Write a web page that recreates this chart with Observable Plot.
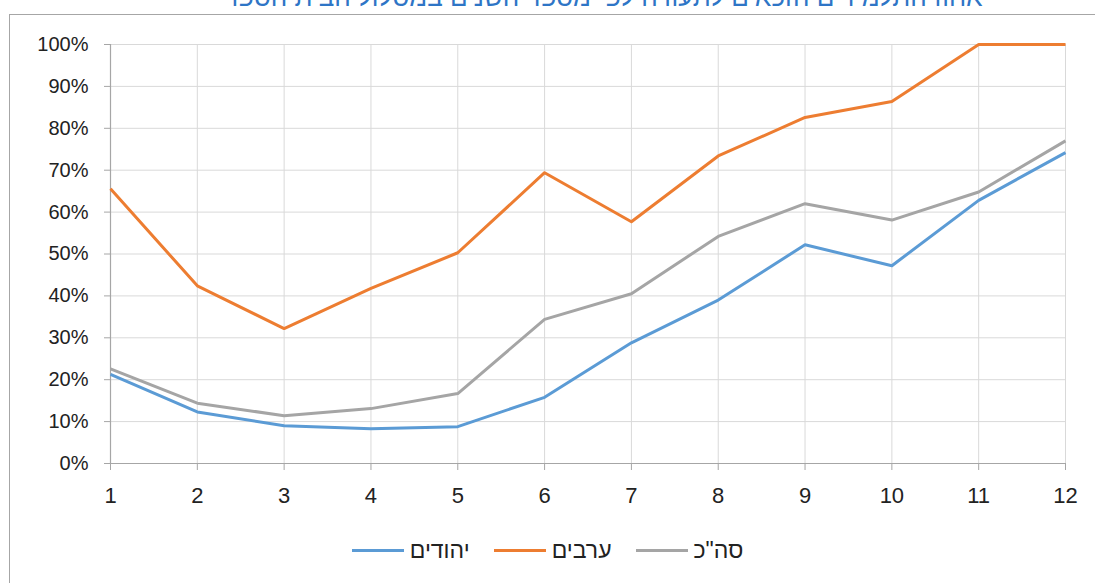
<!DOCTYPE html>
<html><head><meta charset="utf-8">
<script src="https://cdn.jsdelivr.net/npm/d3@7"></script>
<script src="https://cdn.jsdelivr.net/npm/@observablehq/plot@0.6"></script>
<style>
body{margin:0;background:#fff;font-family:"Liberation Sans",Arial,sans-serif;overflow:hidden}
#wrap{position:relative;width:1095px;height:583px;overflow:hidden}
#title{position:absolute;left:0;width:1200px;top:-18px;text-align:center;font-size:26px;line-height:30px;color:#2e75c6;direction:rtl;white-space:nowrap}
#ftop{position:absolute;left:9px;top:14px;width:1086px;height:0;border-top:1.5px solid #a6a6a6}
#fleft{position:absolute;left:9px;top:14px;width:0;height:569px;border-left:1.5px solid #a6a6a6}
#chart{position:absolute;left:0;top:0}
#legend{position:absolute;top:536px;left:0;width:1095px;display:flex;justify-content:center;gap:24px;font-size:23px;line-height:28px;color:#222}
.item{display:flex;align-items:center;gap:6px}
.sw{width:52px;height:3px}
</style></head>
<body><div id="wrap">
<div id="title">אחוז התלמידים הזכאים לתעודה לפי מספר השנים במסלול הבית הספרי</div>
<div id="ftop"></div><div id="fleft"></div>
<div id="chart"></div>
<div id="legend"></div>
</div>
<script>
const xs = [1,2,3,4,5,6,7,8,9,10,11,12];
const jews = [21.3,12.3,9.0,8.3,8.8,15.8,28.8,39.0,52.2,47.2,62.8,74.2];
const arabs = [65.6,42.4,32.2,41.8,50.3,69.4,57.7,73.4,82.6,86.4,100,100];
const total = [22.6,14.4,11.4,13.1,16.7,34.4,40.5,54.2,62.0,58.1,64.8,77.0];
const seriesNames = ["יהודים","ערבים","סה\"כ"];
const seriesColors = ["#5b9bd5","#ed7d31","#a5a5a5"];
const yTicks = [0,10,20,30,40,50,60,70,80,90,100];

const seriesVals = [jews, arabs, total];
const rows = [];
seriesVals.forEach((vals, si) => vals.forEach((v, i) => rows.push({x: xs[i], y: v, s: seriesNames[si]})));

const chart = Plot.plot({
  width: 1095, height: 520,
  marginLeft: 110, marginRight: 30, marginTop: 44, marginBottom: 57,
  style: {fontFamily: "'Liberation Sans', Arial, sans-serif", background: "transparent", color: "#222"},
  x: {domain: [1, 12], ticks: xs, label: null},
  y: {domain: [0, 100], ticks: yTicks, label: null},
  color: {domain: seriesNames, range: seriesColors},
  marks: [
    Plot.gridY(yTicks.filter(d => d > 0), {stroke: "#d9d9d9", strokeOpacity: 1}),
    Plot.gridX(xs.filter(d => d > 1), {stroke: "#d9d9d9", strokeOpacity: 1}),
    Plot.ruleY([0], {stroke: "#a6a6a6", strokeWidth: 1.2}),
    Plot.ruleX([1], {stroke: "#a6a6a6", strokeWidth: 1.2}),
    Plot.axisY({ticks: yTicks, tickSize: 6, tickFormat: () => "", stroke: "#a6a6a6", label: null}),
    Plot.axisY({ticks: yTicks, tickSize: 0, tickPadding: 22, tickFormat: d => d + "%", fontSize: 20, fill: "#222", label: null}),
    Plot.axisX({ticks: xs, tickSize: 7, tickFormat: () => "", stroke: "#a6a6a6", label: null}),
    Plot.axisX({ticks: xs, tickSize: 0, tickPadding: 24, tickFormat: d => String(d), fontSize: 22, fill: "#222", label: null}),
    Plot.line(rows, {x: "x", y: "y", z: "s", stroke: "s", strokeWidth: 3, strokeLinejoin: "round", strokeLinecap: "butt"})
  ]
});
document.getElementById("chart").appendChild(chart);

const leg = document.getElementById("legend");
seriesNames.forEach((n, i) => {
  const it = document.createElement("div"); it.className = "item";
  const sw = document.createElement("div"); sw.className = "sw"; sw.style.background = seriesColors[i];
  const t = document.createElement("span"); t.textContent = n; t.style.direction = "rtl";
  it.appendChild(sw); it.appendChild(t); leg.appendChild(it);
});
</script>
</body></html>
